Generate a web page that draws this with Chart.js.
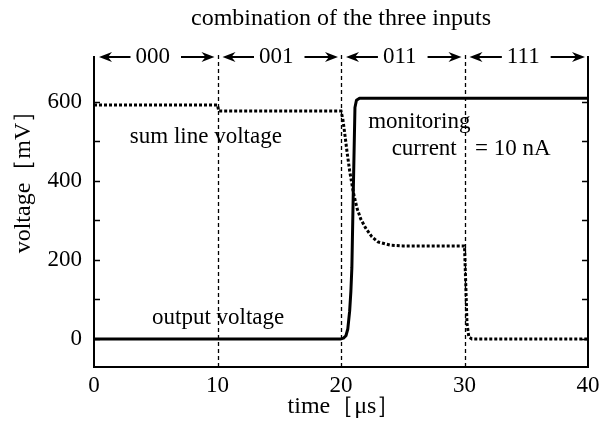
<!DOCTYPE html>
<html><head><meta charset="utf-8">
<script src="https://cdn.jsdelivr.net/npm/chart.js@4/dist/chart.umd.min.js"></script>
<style>html,body{margin:0;padding:0;background:#fff}canvas{display:block}</style>
</head><body>
<canvas id="c" width="602" height="422"></canvas>
<script>
const sectionLabels = ['000', '001', '011', '111'];
const sectionEdges = [0, 10, 20, 30, 40];
const xTickValues = [0, 10, 20, 30, 40];
const yTickValues = [0, 200, 400, 600];
const yMinorTicks = [0, 100, 200, 300, 400, 500, 600];

const sumTime    = [0, 10, 10.1, 20, 20.15, 20.3, 20.5, 20.7, 21.0, 21.3, 21.6, 22.0, 22.5, 23.0, 24.0, 25.0, 30.0, 30.1, 30.2, 30.35, 30.6, 40];
const sumVoltage = [591, 591, 576, 576, 555, 520, 470, 425, 370, 330, 303, 280, 258, 245, 237, 235, 235, 140, 40, 5, 0, 0];

const outTime    = [0, 20.0, 20.2, 20.4, 20.55, 20.7, 20.8, 20.88, 21.0, 21.13, 21.25, 21.5, 40];
const outVoltage = [0, 0, 2, 8, 25, 70, 120, 180, 380, 585, 603, 608, 608];

const titleText = 'combination of the three inputs';
const xTitle = 'time［μs］';
const yTitle = 'voltage［mV］';

const FONT = '"Liberation Serif", "Times New Roman", serif';

function arrow(ctx, x1, x2, y) {
  const dir = Math.sign(x2 - x1);
  ctx.beginPath();
  ctx.moveTo(x1, y);
  ctx.lineTo(x2 - dir * 6, y);
  ctx.stroke();
  ctx.beginPath();
  ctx.moveTo(x2, y);
  ctx.lineTo(x2 - dir * 13, y - 5);
  ctx.lineTo(x2 - dir * 9, y);
  ctx.lineTo(x2 - dir * 13, y + 5);
  ctx.closePath();
  ctx.fill();
}

const decor = {
  id: 'decor',
  beforeDatasetsDraw(chart) {
    const {ctx, chartArea: a, scales: {x}} = chart;
    ctx.save();
    ctx.strokeStyle = '#000';
    ctx.lineWidth = 1.3;
    ctx.setLineDash([4, 3]);
    for (const e of sectionEdges.slice(1, -1)) {
      const px = Math.round(x.getPixelForValue(e)) + 0.5;
      ctx.beginPath();
      ctx.moveTo(px, a.bottom);
      ctx.lineTo(px, a.top - 1);
      ctx.stroke();
    }
    ctx.restore();
  },
  afterDraw(chart) {
    const {ctx, chartArea: a, scales: {x, y}} = chart;
    ctx.save();
    ctx.strokeStyle = '#000';
    ctx.fillStyle = '#000';
    ctx.setLineDash([]);
    ctx.lineWidth = 2;
    ctx.beginPath();
    ctx.moveTo(a.left, a.top);
    ctx.lineTo(a.left, a.bottom);
    ctx.lineTo(a.right, a.bottom);
    ctx.lineTo(a.right, a.top);
    ctx.stroke();
    ctx.lineWidth = 1.5;
    for (const v of yMinorTicks) {
      const py = Math.round(y.getPixelForValue(v)) + 0.5;
      ctx.beginPath();
      ctx.moveTo(a.left, py); ctx.lineTo(a.left + 6, py);
      ctx.moveTo(a.right, py); ctx.lineTo(a.right - 6, py);
      ctx.stroke();
    }
    ctx.font = '23px ' + FONT;
    ctx.textAlign = 'center';
    ctx.textBaseline = 'middle';
    ctx.lineWidth = 2;
    const ay = a.top + 1;
    for (let i = 0; i < sectionLabels.length; i++) {
      const l = x.getPixelForValue(sectionEdges[i]);
      const r = x.getPixelForValue(sectionEdges[i + 1]);
      const cx = (l + r) / 2 - 3;
      const w = ctx.measureText(sectionLabels[i]).width;
      ctx.fillText(sectionLabels[i], cx, ay);
      arrow(ctx, cx - w / 2 - 5, l + 5, ay);
      arrow(ctx, cx + w / 2 + 11, r - 3, ay);
    }
    ctx.textBaseline = 'alphabetic';
    ctx.font = '24px ' + FONT;
    ctx.fillText(titleText, (a.left + a.right) / 2, 25);
    ctx.fillText(xTitle, (a.left + a.right) / 2 + 3, 413);
    ctx.save();
    ctx.translate(30, 176);
    ctx.rotate(-Math.PI / 2);
    ctx.fillText(yTitle, 0, 0);
    ctx.restore();
    ctx.font = '23px ' + FONT;
    ctx.textAlign = 'left';
    const notes = [
      ['sum line voltage', 2.9, 496],
      ['output voltage', 4.7, 38],
      ['monitoring', 22.2, 534],
      ['current', 24.1, 466],
      ['= 10 nA', 30.85, 466]
    ];
    for (const [t, tx, vy] of notes) {
      ctx.fillText(t, x.getPixelForValue(tx), y.getPixelForValue(vy));
    }
    ctx.restore();
  }
};

new Chart(document.getElementById('c'), {
  type: 'line',
  data: {
    datasets: [
      {
        data: sumTime.map((t, i) => ({x: t, y: sumVoltage[i]})),
        borderColor: '#000', borderWidth: 3, borderDash: [3, 2],
        pointRadius: 0, tension: 0, borderCapStyle: 'butt'
      },
      {
        data: outTime.map((t, i) => ({x: t, y: outVoltage[i]})),
        borderColor: '#000', borderWidth: 3,
        pointRadius: 0, tension: 0, borderJoinStyle: 'round'
      }
    ]
  },
  options: {
    responsive: false, animation: false, devicePixelRatio: 1,
    layout: {padding: {top: 56, right: 14, left: 0, bottom: 0}},
    plugins: {legend: {display: false}, tooltip: {enabled: false}, title: {display: false}},
    scales: {
      x: {
        type: 'linear', min: 0, max: 40,
        afterBuildTicks: s => { s.ticks = xTickValues.map(v => ({value: v})); },
        afterFit: s => { s.height = 55; s.paddingLeft = 0; s.paddingRight = 0; },
        grid: {display: false, drawTicks: false}, border: {display: false},
        ticks: {font: {family: FONT, size: 23}, color: '#000', padding: 5, maxRotation: 0}
      },
      y: {
        type: 'linear', min: -71, max: 715,
        afterBuildTicks: s => { s.ticks = yTickValues.map(v => ({value: v})); },
        afterFit: s => { s.width = 94; s.paddingTop = 0; s.paddingBottom = 0; },
        grid: {display: false, drawTicks: false}, border: {display: false},
        ticks: {font: {family: FONT, size: 23}, color: '#000', padding: 12}
      }
    }
  },
  plugins: [decor]
});
</script>
</body></html>
